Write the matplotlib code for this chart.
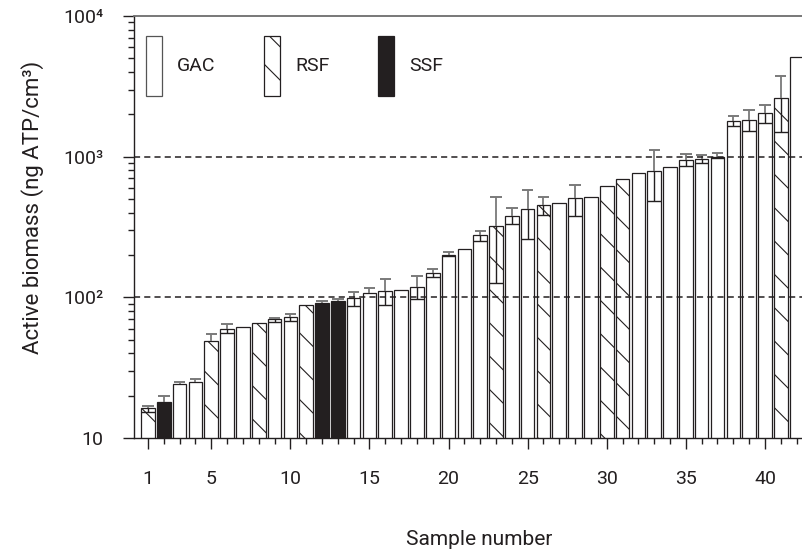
import numpy as np
import matplotlib
matplotlib.use("Agg")
import matplotlib.pyplot as plt
from matplotlib.patches import Patch
from matplotlib.ticker import FixedLocator, NullFormatter, LogLocator

plt.rcParams["font.family"] = ["Roboto", "DejaVu Sans"]
plt.rcParams["hatch.linewidth"] = 0.8
plt.rcParams["hatch.color"] = "#231f20"

# ---- data ----
samples = np.arange(1, 43)
filters = ["RSF", "SSF", "GAC", "GAC", "RSF", "GAC", "GAC", "RSF", "GAC", "GAC",
           "RSF", "SSF", "SSF", "GAC", "GAC", "GAC", "GAC", "GAC", "GAC", "GAC",
           "GAC", "GAC", "RSF", "GAC", "GAC", "RSF", "GAC", "GAC", "GAC", "RSF",
           "RSF", "GAC", "GAC", "GAC", "GAC", "GAC", "GAC", "GAC", "GAC", "GAC",
           "RSF", "GAC"]
atp_mean = [16.3, 18.0, 24.2, 25.0, 49.3, 60.0, 61.4, 65.5, 69.6, 72.0,
            87.7, 90.6, 93.6, 98.9, 107, 111, 113, 119, 149.6, 201,
            219, 279, 323, 381, 424, 454, 472, 507, 518, 618,
            696, 769, 790, 843, 946, 963, 996, 1786, 1836, 2028,
            2624, 5117]
atp_low = [15.2, np.nan, np.nan, np.nan, np.nan, 56.0, np.nan, np.nan, 66.8, 67.6,
           np.nan, np.nan, np.nan, 86.6, np.nan, 87.7, np.nan, 96.6, 140, 196,
           np.nan, 251, 126.4, 331, 259, 387, np.nan, 377, np.nan, np.nan,
           np.nan, np.nan, 483, np.nan, 859, 906, 981, 1656, 1517, 1729,
           1500, np.nan]
atp_high = [16.9, 20.0, 25.2, 26.1, 55.0, 64.9, np.nan, np.nan, 71.0, 76.6,
            np.nan, 94.6, 97.9, 109, 117, 136, np.nan, 141, 158, 211,
            np.nan, 298, 520, 430, 580, 520, np.nan, 631, np.nan, np.nan,
            np.nan, np.nan, 1122, np.nan, 1045, 1030, 1062, 1941, 2158, 2323,
            3768, np.nan]

styles = {"GAC": dict(color="white", hatch=None),
          "RSF": dict(color="white", hatch="\\"),
          "SSF": dict(color="#231f20", hatch=None)}

ink = "#231f20"
width = 0.86

fig = plt.figure(figsize=(8.02, 5.51), dpi=100)
ax = fig.add_axes([134 / 802, 1 - 438 / 551, 670.5 / 802, 422 / 551])
ax.set_yscale("log")

filters_arr = np.array(filters)
mean = np.array(atp_mean)
low = np.array(atp_low)
high = np.array(atp_high)

for name in ["GAC", "RSF", "SSF"]:
    m = filters_arr == name
    ax.bar(samples[m], mean[m], width=width, color=styles[name]["color"],
           hatch=styles[name]["hatch"], edgecolor=ink, linewidth=0.9, zorder=2)

# error bars: upper part grey above the bar, lower part black inside it
cap = 0.72
hi_ok = ~np.isnan(high)
ax.vlines(samples[hi_ok], mean[hi_ok], high[hi_ok], color="#7a7a7a", lw=1.3, zorder=3)
ax.hlines(high[hi_ok], samples[hi_ok] - cap / 2, samples[hi_ok] + cap / 2,
          color="#7a7a7a", lw=1.4, zorder=3)
lo_ok = ~np.isnan(low)
ax.vlines(samples[lo_ok], low[lo_ok], mean[lo_ok], color=ink, lw=1.0, zorder=3)
ax.hlines(low[lo_ok], samples[lo_ok] - width / 2, samples[lo_ok] + width / 2,
          color=ink, lw=1.0, zorder=3)

for ref in (100, 1000):
    ax.axhline(ref, color=ink, lw=1.1, ls=(0, (4, 2.7)), zorder=4)

ax.set_ylim(10, 10000)
ax.set_xlim(0.115, 42.5)

ax.yaxis.set_major_locator(FixedLocator([10, 100, 1000, 10000]))
ax.set_yticklabels(["10", "100\u00b2", "100\u00b3", "100\u2074"])
ax.yaxis.set_minor_locator(LogLocator(base=10, subs=np.arange(2, 10)))
ax.yaxis.set_minor_formatter(NullFormatter())

ax.xaxis.set_major_locator(FixedLocator([1, 5, 10, 15, 20, 25, 30, 35, 40]))
ax.xaxis.set_minor_locator(FixedLocator(samples))
ax.xaxis.set_minor_formatter(NullFormatter())

ax.tick_params(axis="both", which="major", labelsize=14, colors=ink, labelcolor=ink,
               width=1.0, length=8)
ax.tick_params(axis="both", which="minor", colors=ink, width=1.0, length=4.3)
ax.tick_params(axis="x", which="major", pad=15)
ax.tick_params(axis="y", which="major", pad=14)

for side in ("left", "bottom"):
    ax.spines[side].set_color(ink)
    ax.spines[side].set_linewidth(1.0)
ax.spines["top"].set_color("#6d6d6d")
ax.spines["top"].set_linewidth(1.3)
ax.spines["right"].set_visible(False)

ax.set_ylabel("Active biomass (ng ATP/cm\u00b3)", fontsize=16, color=ink)
ax.yaxis.set_label_coords(-0.134, 0.547)
ax.set_xlabel("Sample number", fontsize=15, color=ink)
ax.xaxis.set_label_coords(0.5145, -0.218)

handles = [Patch(facecolor=styles[n]["color"], hatch=styles[n]["hatch"],
                 edgecolor=ink if n != "GAC" else "#555555", linewidth=0.9, label=n)
           for n in ["GAC", "RSF", "SSF"]]
leg = ax.legend(handles=handles, loc="upper left", bbox_to_anchor=(0.018, 0.953),
                ncol=3, frameon=False, fontsize=14, handlelength=0.82,
                handleheight=4.4, handletextpad=0.77, columnspacing=2.5,
                borderpad=0, borderaxespad=0)
for t in leg.get_texts():
    t.set_color(ink)

fig.savefig("out.png", dpi=100)
